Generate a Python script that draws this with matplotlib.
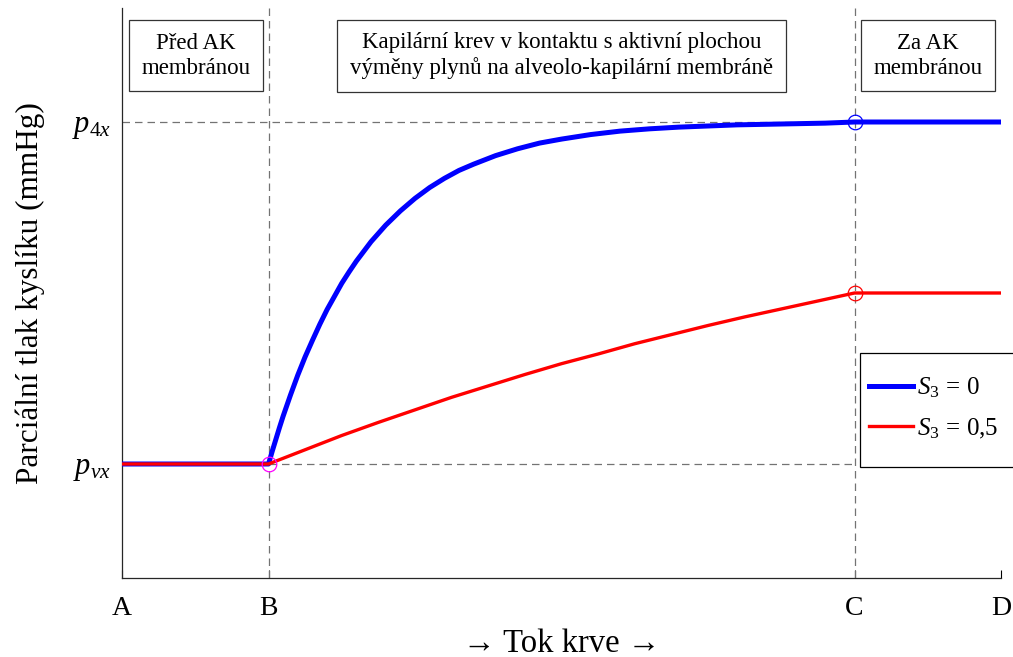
import matplotlib
matplotlib.use('Agg')
import matplotlib.pyplot as plt
from matplotlib.patches import Rectangle

plt.rcParams['font.family'] = ['Liberation Serif', 'DejaVu Serif']
plt.rcParams['mathtext.fontset'] = 'custom'
plt.rcParams['mathtext.rm'] = 'Liberation Serif'
plt.rcParams['mathtext.it'] = 'Liberation Serif:italic'

# positions along the blood flow: A, B (start of membrane), C (end), D
x_ticks = [0, 1, 5, 6]
x_tick_labels = ['A', 'B', 'C', 'D']
p_vx = 40
p_4x = 100
y_ticks = [p_vx, p_4x]
y_tick_labels = [r'$p_{vx}$', r'$p_{4x}$']

# S3 = 0: fast equilibration with the alveolar pressure
x_fast = [0, 1, 1.025, 1.05, 1.075, 1.1, 1.15, 1.2, 1.25, 1.3, 1.35, 1.4,
          1.45, 1.5, 1.55, 1.6, 1.7, 1.8, 1.9, 2.0, 2.1, 2.2, 2.3, 2.4,
          2.55, 2.7, 2.85, 3.0, 3.2, 3.4, 3.6, 3.8, 4.0, 4.2, 4.4, 4.6,
          4.8, 5.0, 6.0]
p_fast = [40, 40, 42.2, 44.3, 46.4, 48.4, 52.1, 55.6, 58.8, 61.7, 64.5,
          67.1, 69.4, 71.7, 73.7, 75.6, 79.0, 81.9, 84.4, 86.6, 88.5, 90.1,
          91.5, 92.6, 94.1, 95.3, 96.3, 97.0, 97.8, 98.4, 98.8, 99.1, 99.3,
          99.5, 99.6, 99.7, 99.8, 100, 100]

# S3 = 0,5: slow rise, ends well below p_4x
x_slow = [0, 1, 1.25, 1.5, 1.75, 2.0, 2.25, 2.5, 2.75, 3.0, 3.25, 3.5,
          3.75, 4.0, 4.25, 4.5, 4.75, 5.0, 6.0]
p_slow = [40, 40, 42.5, 45.0, 47.3, 49.5, 51.7, 53.7, 55.7, 57.6, 59.3,
          61.1, 62.7, 64.3, 65.8, 67.2, 68.6, 70.0, 70.0]

region_labels = ['Před AK\nmembránou',
                 'Kapilární krev v kontaktu s aktivní plochou\n'
                 'výměny plynů na alveolo-kapilární membráně',
                 'Za AK\nmembránou']
region_x = [0.505, 3.0, 5.5]

W, H = 1013, 657
fig = plt.figure(figsize=(W / 100, H / 100), dpi=100)
ax = fig.add_axes([122 / W, (H - 578) / H, (1001 - 122) / W, (578 - 8) / H])
ax.set_xlim(0, 6)
ax.set_ylim(20, 120)

dash = dict(color='0.45', lw=0.9, dashes=(6, 4))
ax.plot([0, 6], [p_4x, p_4x], **dash)
ax.plot([1, 5], [p_vx, p_vx], **dash)
ax.plot([1, 1], [20, 120], **dash)
ax.plot([5, 5], [20, 120], **dash)

ax.plot(x_fast, p_fast, color='#0000ff', lw=3.6,
        label=r'$S_{\mathit{3}}\,=\,0$', zorder=3)
ax.plot(x_slow, p_slow, color='#ff0000', lw=2.4,
        label=r'$S_{\mathit{3}}\,=\,0{,}5$', zorder=4)

ring = dict(marker='o', ms=10.5, mfc='none', mew=0.9, zorder=5)
ax.plot(x_fast[1], p_fast[1], color='#ff00ff', **ring)
ax.plot(x_fast[-2], p_fast[-2], color='#0000ff', **ring)
ax.plot(x_slow[-2], p_slow[-2], color='#ff0000', **ring)

for x, txt in zip(region_x, region_labels):
    ax.text(x, 111.6, txt, ha='center', va='center', fontsize=16.5,
            linespacing=1.25,
            bbox=dict(boxstyle='square,pad=0.55', fc='white', ec='0.2', lw=0.9))

ax.set_xticks(x_ticks)
ax.set_xticklabels(x_tick_labels)
ax.set_yticks(y_ticks)
ax.set_yticklabels(y_tick_labels)
ax.tick_params(axis='x', direction='in', length=6, labelsize=20, pad=13)
ax.tick_params(axis='y', direction='in', length=0, labelsize=22, pad=8)
for side in ('top', 'right'):
    ax.spines[side].set_visible(False)
for side in ('left', 'bottom'):
    ax.spines[side].set_linewidth(0.9)
    ax.spines[side].set_color('0.15')

ax.set_xlabel('→ Tok krve →', fontsize=23.5, labelpad=5)
ax.set_ylabel('Parciální tlak kyslíku (mmHg)', fontsize=22.5, labelpad=19)

# legend frame drawn separately so it can run off the right edge
frame = Rectangle((860 / W, 1 - 467 / H), 160 / W, 114 / H,
                  transform=fig.transFigure, clip_on=False,
                  fc='white', ec='black', lw=0.9, zorder=4.9)
ax.add_patch(frame)
leg = ax.legend(loc='center left', bbox_to_anchor=(869 / W, 1 - 408 / H),
                bbox_transform=fig.transFigure, borderaxespad=0, borderpad=0,
                fontsize=18, frameon=False, handlelength=1.75,
                handletextpad=0.15, labelspacing=0.65)

fig.savefig('out.png', dpi=100)
